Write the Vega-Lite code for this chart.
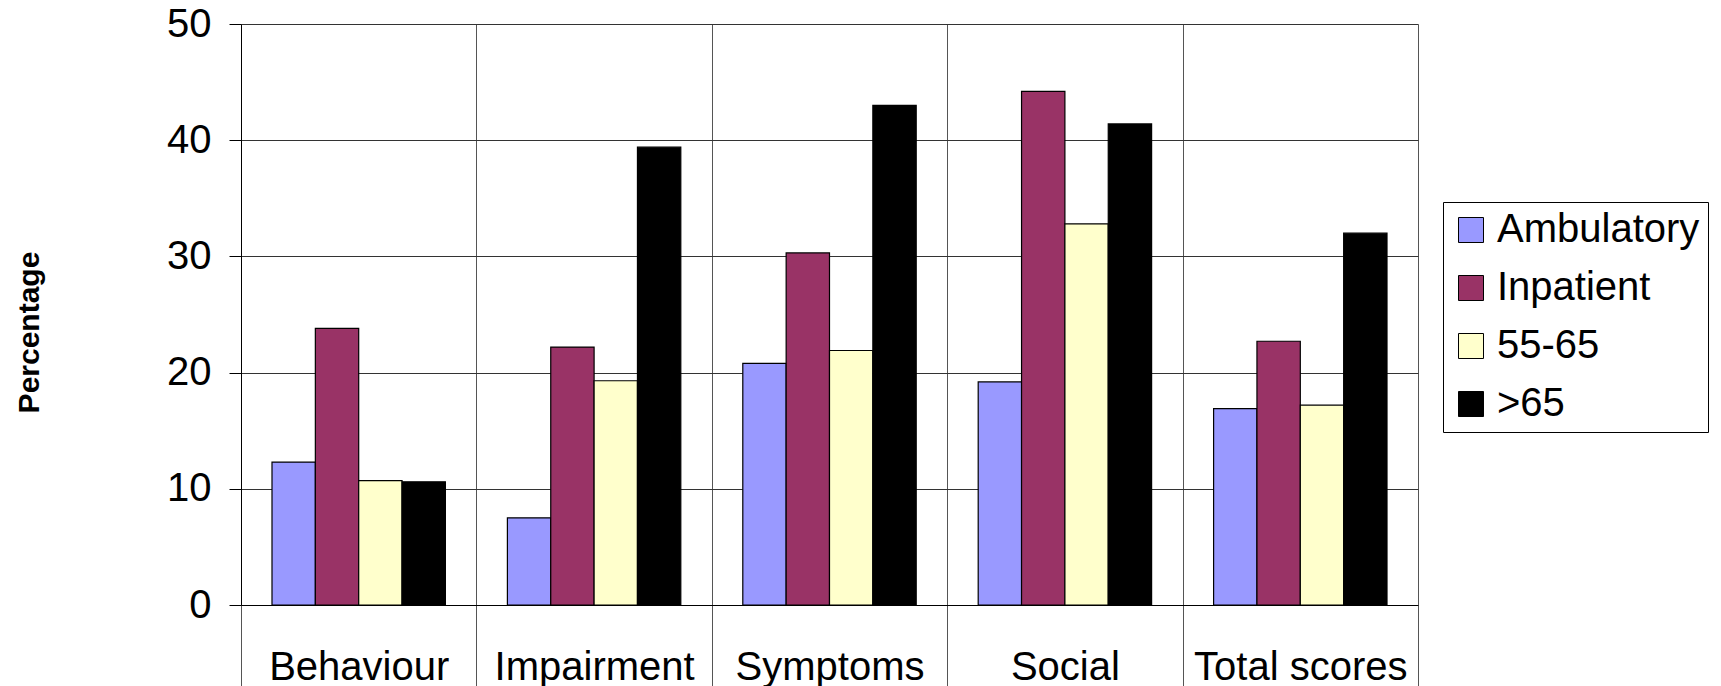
{
  "$schema": "https://vega.github.io/schema/vega-lite/v6.json",
  "width": 1177,
  "height": 581,
  "autosize": {"type": "none"},
  "padding": {"left": 241, "top": 24, "right": 303, "bottom": 81},
  "background": "white",
  "config": {"font": "Liberation Sans", "view": {"stroke": null}},
  "data": {
    "values": [
      {"domain": "Behaviour", "group": "Ambulatory", "value": 12.3},
      {"domain": "Behaviour", "group": "Inpatient", "value": 23.8},
      {"domain": "Behaviour", "group": "55-65", "value": 10.7},
      {"domain": "Behaviour", "group": ">65", "value": 10.6},
      {"domain": "Impairment", "group": "Ambulatory", "value": 7.5},
      {"domain": "Impairment", "group": "Inpatient", "value": 22.2},
      {"domain": "Impairment", "group": "55-65", "value": 19.3},
      {"domain": "Impairment", "group": ">65", "value": 39.4},
      {"domain": "Symptoms", "group": "Ambulatory", "value": 20.8},
      {"domain": "Symptoms", "group": "Inpatient", "value": 30.3},
      {"domain": "Symptoms", "group": "55-65", "value": 21.9},
      {"domain": "Symptoms", "group": ">65", "value": 43.0},
      {"domain": "Social", "group": "Ambulatory", "value": 19.2},
      {"domain": "Social", "group": "Inpatient", "value": 44.2},
      {"domain": "Social", "group": "55-65", "value": 32.8},
      {"domain": "Social", "group": ">65", "value": 41.4},
      {"domain": "Total scores", "group": "Ambulatory", "value": 16.9},
      {"domain": "Total scores", "group": "Inpatient", "value": 22.7},
      {"domain": "Total scores", "group": "55-65", "value": 17.2},
      {"domain": "Total scores", "group": ">65", "value": 32.0}
    ]
  },
  "mark": {"type": "bar", "stroke": "#000000", "strokeWidth": 1.2},
  "encoding": {
    "x": {
      "field": "domain",
      "type": "nominal",
      "sort": ["Behaviour", "Impairment", "Symptoms", "Social", "Total scores"],
      "scale": {"paddingInner": 0, "paddingOuter": 0},
      "axis": {
        "title": null,
        "labelAngle": 0,
        "labelFontSize": 40,
        "labelColor": "#000000",
        "labelBaseline": "alphabetic",
        "labelPadding": -8,
        "labelLimit": 0,
        "tickBand": "extent",
        "grid": true,
        "gridColor": "#555555",
        "gridOpacity": 1,
        "gridWidth": 1,
        "ticks": true,
        "tickSize": 82,
        "tickColor": "#555555",
        "tickWidth": 1,
        "domainColor": "#000000",
        "domainWidth": 1
      }
    },
    "xOffset": {
      "field": "group",
      "type": "nominal",
      "sort": ["Ambulatory", "Inpatient", "55-65", ">65"],
      "scale": {"paddingInner": 0, "paddingOuter": 0.715}
    },
    "y": {
      "field": "value",
      "type": "quantitative",
      "scale": {"domain": [0, 50], "nice": false},
      "axis": {
        "values": [0, 10, 20, 30, 40, 50],
        "title": "Percentage",
        "titleFontSize": 30,
        "titleFontWeight": "bold",
        "titleColor": "#000000",
        "titleAngle": -90,
        "titleAlign": "center",
        "titleBaseline": "middle",
        "titleX": -212,
        "titleY": 308,
        "labelFontSize": 40,
        "labelColor": "#000000",
        "labelPadding": 18,
        "tickSize": 12,
        "tickColor": "#000000",
        "domainColor": "#000000",
        "grid": true,
        "gridColor": "#333333",
        "gridOpacity": 1
      }
    },
    "color": {
      "field": "group",
      "type": "nominal",
      "sort": ["Ambulatory", "Inpatient", "55-65", ">65"],
      "scale": {
        "domain": ["Ambulatory", "Inpatient", "55-65", ">65"],
        "range": ["#9999FF", "#993366", "#FFFFCC", "#000000"]
      },
      "legend": {
        "title": null,
        "orient": "none",
        "legendX": 1202,
        "legendY": 178,
        "strokeColor": "#000000",
        "fillColor": "#ffffff",
        "padding": 8,
        "titlePadding": 0,
        "symbolType": "square",
        "symbolSize": 625,
        "symbolStrokeColor": "#000000",
        "symbolStrokeWidth": 1,
        "symbolOpacity": 1,
        "labelFontSize": 40,
        "labelColor": "#000000",
        "labelOffset": 6,
        "rowPadding": 18,
        "labelLimit": 400
      }
    }
  }
}
